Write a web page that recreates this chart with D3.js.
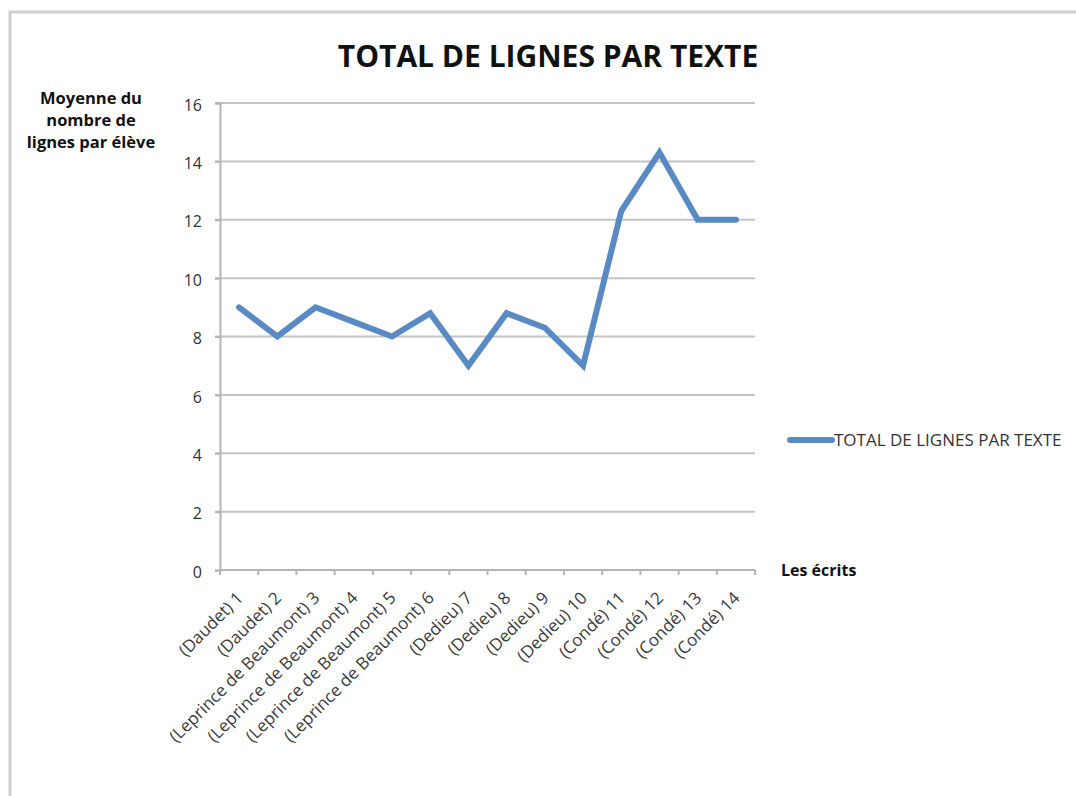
<!DOCTYPE html>
<html>
<head>
<meta charset="utf-8">
<script src="https://cdn.jsdelivr.net/npm/d3@7"></script>
<style>
  body { margin: 0; background: #fff; }
  svg { display: block; font-family: "Open Sans", "Liberation Sans", sans-serif; }
</style>
</head>
<body>
<div id="chart"></div>
<script>
'use strict';

// Chart data
const categories = [
  '(Daudet) 1', '(Daudet) 2', '(Leprince de Beaumont) 3', '(Leprince de Beaumont) 4',
  '(Leprince de Beaumont) 5', '(Leprince de Beaumont) 6', '(Dedieu) 7', '(Dedieu) 8',
  '(Dedieu) 9', '(Dedieu) 10', '(Condé) 11', '(Condé) 12', '(Condé) 13', '(Condé) 14'
];
const values = [9, 8, 9, 8.5, 8, 8.8, 7, 8.8, 8.3, 7, 12.3, 14.3, 12, 12];
const yTicks = [0, 2, 4, 6, 8, 10, 12, 14, 16];
const seriesName = 'TOTAL DE LIGNES PAR TEXTE';
const titleText = 'TOTAL DE LIGNES PAR TEXTE';
const yLabelLines = ['Moyenne du', 'nombre de', 'lignes par élève'];
const xLabelText = 'Les écrits';

const width = 1076, height = 796;
const plot = {left: 220, right: 755, top: 103, bottom: 570};
const lineColor = '#5a8ac3';

const svg = d3.select('#chart').append('svg')
  .attr('width', width)
  .attr('height', height);

// Frame (top and left edges of the original screenshot)
svg.append('path')
  .attr('d', `M10,${height} L10,12 L${width},12`)
  .attr('fill', 'none')
  .attr('stroke', '#cfcfcf')
  .attr('stroke-width', 3);

const x = d3.scaleBand()
  .domain(categories)
  .range([plot.left, plot.right]);

const y = d3.scaleLinear()
  .domain([0, 16])
  .range([plot.bottom, plot.top]);

// Gridlines
svg.append('g')
  .selectAll('line')
  .data(yTicks.filter(t => t > 0))
  .join('line')
  .attr('x1', plot.left - 5)
  .attr('x2', plot.right)
  .attr('y1', d => y(d))
  .attr('y2', d => y(d))
  .attr('stroke', '#c4c4c4')
  .attr('stroke-width', 2);

// Y axis
const yAxis = svg.append('g')
  .attr('transform', `translate(${plot.left},0)`)
  .call(d3.axisLeft(y).tickValues(yTicks).tickSize(5).tickPadding(13));
yAxis.select('.domain').attr('stroke', '#b4b4b4').attr('stroke-width', 2);
yAxis.selectAll('.tick line').attr('stroke', '#b4b4b4').attr('stroke-width', 2);
yAxis.selectAll('.tick text')
  .attr('font-size', 16)
  .attr('dy', '0.45em')
  .attr('fill', '#333')
  .attr('font-family', '"Open Sans", "Liberation Sans", sans-serif');

// X axis with ticks at band boundaries
const xAxisG = svg.append('g')
  .attr('transform', `translate(0,${plot.bottom})`);
xAxisG.append('line')
  .attr('x1', plot.left)
  .attr('x2', plot.right)
  .attr('stroke', '#b4b4b4')
  .attr('stroke-width', 2);
const boundaries = categories.map(c => x(c)).concat([plot.right]);
xAxisG.selectAll('.xtick')
  .data(boundaries)
  .join('line')
  .attr('class', 'xtick')
  .attr('x1', d => d)
  .attr('x2', d => d)
  .attr('y1', 0)
  .attr('y2', 5)
  .attr('stroke', '#b4b4b4')
  .attr('stroke-width', 2);

xAxisG.selectAll('.xlabel')
  .data(categories)
  .join('text')
  .attr('class', 'xlabel')
  .attr('transform', d => `translate(${x(d) + x.bandwidth() / 2 + 5},${29}) rotate(-45)`)
  .attr('text-anchor', 'end')
  .attr('font-size', 17)
  .attr('fill', '#3a3a3a')
  .text(d => d);

// Data line
const line = d3.line()
  .x((d, i) => x(categories[i]) + x.bandwidth() / 2)
  .y(d => y(d));

svg.append('path')
  .datum(values)
  .attr('d', line)
  .attr('fill', 'none')
  .attr('stroke', lineColor)
  .attr('stroke-width', 6)
  .attr('stroke-linejoin', 'miter')
  .attr('stroke-linecap', 'round');

// Title
svg.append('text')
  .attr('x', 548)
  .attr('y', 67)
  .attr('text-anchor', 'middle')
  .attr('font-size', 30)
  .attr('font-weight', 'bold')
  .attr('fill', '#111')
  .text(titleText);

// Y axis title
svg.append('text')
  .attr('x', 91)
  .attr('y', 104)
  .attr('text-anchor', 'middle')
  .attr('font-size', 16.5)
  .attr('font-weight', 'bold')
  .attr('fill', '#111')
  .selectAll('tspan')
  .data(yLabelLines)
  .join('tspan')
  .attr('x', 91)
  .attr('dy', (d, i) => i === 0 ? 0 : 22)
  .text(d => d);

// X axis title
svg.append('text')
  .attr('x', 781)
  .attr('y', 576)
  .attr('font-size', 16)
  .attr('font-weight', 'bold')
  .attr('fill', '#111')
  .text(xLabelText);

// Legend
const legend = svg.append('g').attr('transform', 'translate(790,440)');
legend.append('line')
  .attr('x1', 0)
  .attr('x2', 42)
  .attr('stroke', lineColor)
  .attr('stroke-width', 6)
  .attr('stroke-linecap', 'round');
legend.append('text')
  .attr('x', 44)
  .attr('y', 6)
  .attr('font-size', 17)
  .attr('fill', '#333')
  .text(seriesName);
</script>
</body>
</html>
